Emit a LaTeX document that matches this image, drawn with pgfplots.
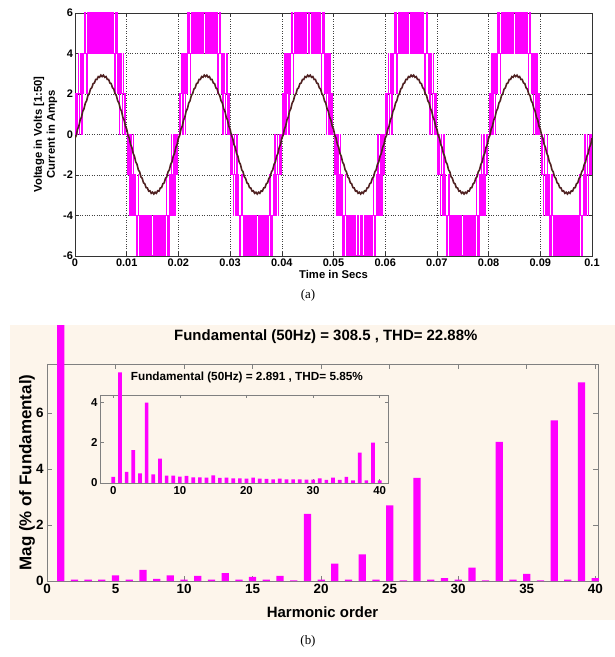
\documentclass[border=0pt]{standalone}
\usepackage{pgfplots}
\pgfplotsset{compat=1.18}
\usepackage{pgfplotstable}
\usepackage{fontspec}
\setmainfont{Liberation Sans}
\newfontfamily\capfont{Liberation Serif}
\definecolor{mag}{RGB}{255,0,255}
\definecolor{cur}{RGB}{80,34,34}
\definecolor{cream}{RGB}{253,245,235}
\definecolor{axgray}{RGB}{128,128,128}

% one period of the multilevel voltage (time in ms)
\pgfplotstableread{
t v
0 0
0.15 2
0.25 0
0.35 2
0.42 0
0.5 2
0.6 4
0.7 2
0.8 0
0.9 2
1.0 4
1.1 2
1.2 4
1.3 0
1.4 2
1.5 4
1.6 2
1.7 4
1.8 6
1.9 4
2.0 6
2.1 4
2.25 2
2.35 4
2.5 6
2.6 4
2.7 6
2.8 4
2.9 6
3.05 4
3.12 6
3.3 4
3.37 6
3.55 4
3.6 6
3.8 4
3.86 6
4.05 4
4.1 6
4.3 4
4.35 6
4.55 4
4.6 6
4.8 4
4.85 6
5.15 4
5.2 6
5.4 4
5.45 6
5.65 4
5.7 6
5.9 4
5.95 6
6.14 4
6.2 6
6.4 4
6.45 6
6.63 4
6.7 6
6.88 4
6.95 6
7.1 4
7.2 6
7.3 4
7.4 6
7.5 4
7.65 2
7.75 4
7.9 6
8.0 4
8.1 6
8.2 4
8.3 2
8.4 4
8.5 2
8.6 0
8.7 4
8.8 2
8.9 4
9.0 2
9.1 0
9.2 2
9.3 4
9.4 2
9.5 0
9.58 2
9.65 0
9.75 2
9.85 0
10.15 -2
10.25 0
10.35 -2
10.42 0
10.5 -2
10.6 -4
10.7 -2
10.8 0
10.9 -2
11.0 -4
11.1 -2
11.2 -4
11.3 0
11.4 -2
11.5 -4
11.6 -2
11.7 -4
11.8 -6
11.9 -4
12.0 -6
12.1 -4
12.25 -2
12.35 -4
12.5 -6
12.6 -4
12.7 -6
12.8 -4
12.9 -6
13.05 -4
13.12 -6
13.3 -4
13.37 -6
13.55 -4
13.6 -6
13.8 -4
13.86 -6
14.05 -4
14.1 -6
14.3 -4
14.35 -6
14.55 -4
14.6 -6
14.8 -4
14.85 -6
15.15 -4
15.2 -6
15.4 -4
15.45 -6
15.65 -4
15.7 -6
15.9 -4
15.95 -6
16.14 -4
16.2 -6
16.4 -4
16.45 -6
16.63 -4
16.7 -6
16.88 -4
16.95 -6
17.1 -4
17.2 -6
17.3 -4
17.4 -6
17.5 -4
17.65 -2
17.75 -4
17.9 -6
18.0 -4
18.1 -6
18.2 -4
18.3 -2
18.4 -4
18.5 -2
18.6 0
18.7 -4
18.8 -2
18.9 -4
19.0 -2
19.1 0
19.2 -2
19.3 -4
19.4 -2
19.5 0
19.58 -2
19.65 0
19.75 -2
19.85 0
20 0
}\vtab

% one period of the current (time in ms)
\pgfplotstableread{
t i
0 -0.188
0.25 -0.04
0.5 0.268
0.75 0.414
1.0 0.717
1.25 0.856
1.5 1.150
1.75 1.277
2.0 1.555
2.25 1.665
2.5 1.923
2.75 2.011
3.0 2.245
3.25 2.306
3.5 2.513
3.75 2.544
4.0 2.719
4.25 2.718
4.5 2.860
4.75 2.824
5.0 2.931
5.25 2.860
5.5 2.931
5.75 2.824
6.0 2.860
6.25 2.718
6.5 2.719
6.75 2.544
7.0 2.513
7.25 2.306
7.5 2.245
7.75 2.011
8.0 1.923
8.25 1.665
8.5 1.555
8.75 1.277
9.0 1.150
9.25 0.856
9.5 0.717
9.75 0.414
10.0 0.268
10.25 -0.040
10.5 -0.188
10.75 -0.494
11.0 -0.637
11.25 -0.936
11.5 -1.070
11.75 -1.357
12.0 -1.475
12.25 -1.745
12.5 -1.843
12.75 -2.091
13.0 -2.165
13.25 -2.386
13.5 -2.433
13.75 -2.624
14.0 -2.639
14.25 -2.798
14.5 -2.780
14.75 -2.904
15.0 -2.851
15.25 -2.940
15.5 -2.851
15.75 -2.904
16.0 -2.780
16.25 -2.798
16.5 -2.639
16.75 -2.624
17.0 -2.433
17.25 -2.386
17.5 -2.165
17.75 -2.091
18.0 -1.843
18.25 -1.745
18.5 -1.475
18.75 -1.357
19.0 -1.070
19.25 -0.936
19.5 -0.637
19.75 -0.494
20.0 -0.188
}\itab

\pgfplotstableread{
h m
1 9.14
2 0.05
3 0.05
4 0.05
5 0.2
6 0.05
7 0.4
8 0.08
9 0.2
10 0.05
11 0.18
12 0.05
13 0.28
14 0.05
15 0.15
16 0.05
17 0.18
18 0.02
19 2.4
20 0.05
21 0.62
22 0.05
23 0.95
24 0.05
25 2.7
26 0.02
27 3.68
28 0.05
29 0.1
30 0.05
31 0.48
32 0.02
33 4.97
34 0.05
35 0.25
36 0.02
37 5.74
38 0.05
39 7.09
40 0.1
}\maintab

\pgfplotstableread{
h m
0 0.3
1 5.47
2 0.55
3 1.62
4 0.48
5 3.97
6 0.43
7 1.2
8 0.36
9 0.36
10 0.31
11 0.35
12 0.28
13 0.28
14 0.26
15 0.38
16 0.25
17 0.26
18 0.23
19 0.23
20 0.21
21 0.26
22 0.21
23 0.2
24 0.18
25 0.21
26 0.18
27 0.18
28 0.18
29 0.17
30 0.17
31 0.23
32 0.15
33 0.26
34 0.15
35 0.3
36 0.13
37 1.5
38 0.13
39 2.0
40 0.13
}\insettab

\begin{document}
\begin{tikzpicture}
\path[use as bounding box] (0bp,0bp) rectangle (615bp,657bp);
\fill[cream] (10bp,37bp) rectangle (615bp,332bp);

% ---------- (a) time domain ----------
\begin{axis}[
  at={(75bp,401bp)}, anchor=south west, scale only axis,
  width=517bp, height=243bp,
  xmin=0, xmax=100, ymin=-6, ymax=6,
  xtick={0,10,20,30,40,50,60,70,80,90,100},
  xticklabels={0,0.01,0.02,0.03,0.04,0.05,0.06,0.07,0.08,0.09,0.1},
  ytick={-6,-4,-2,0,2,4,6},
  yticklabels={-6,-4,-2,0,2,4,6},
  tick align=inside, major tick length=4bp,
  axis line style={black!80, line width=0.5bp},
  tick style={black!80, line width=0.5bp},
  grid=major, grid style={dotted, black!75, line width=0.45bp},
  ticklabel style={font=\fontsize{11}{13}\selectfont\bfseries},
  yticklabel style={xshift=1.5bp},
  xticklabel style={yshift=1bp},
  xlabel={Time in Secs},
  xlabel style={font=\fontsize{11.3}{13}\selectfont\bfseries, at={(axis description cs:0.5,-0.078)}, anchor=center},
  ylabel={Voltage in Volts [1:50]\\Current in Amps},
  ylabel style={align=center, font=\fontsize{11.3}{13}\selectfont\bfseries, at={(axis description cs:-0.057,0.5)}, anchor=center},
]
\pgfplotsinvokeforeach{0,20,40,60,80}{
  \addplot[const plot, mag, line width=1bp] table[x expr=\thisrow{t}+#1, y=v]{\vtab};
}
\pgfplotsinvokeforeach{0,20,40,60,80}{
  \addplot[sharp plot, cur, line width=1.6bp] table[x expr=\thisrow{t}+#1, y=i]{\itab};
}
\end{axis}

% ---------- (b) main spectrum ----------
\begin{axis}[
  at={(47bp,76bp)}, anchor=south west, scale only axis,
  width=551bp, height=217bp,
  xmin=0, xmax=40.2, ymin=0, ymax=7.75,
  ybar, bar width=0.53, clip=false,
  xtick={0,5,10,15,20,25,30,35,40},
  xticklabels={0,5,10,15,20,25,30,35,40},
  ytick={0,2,4,6}, yticklabels={0,2,4,6},
  tick align=inside, major tick length=5bp,
  axis line style={axgray, line width=0.9bp},
  tick style={axgray, line width=0.9bp},
  ticklabel style={font=\fontsize{13.5}{15}\selectfont\bfseries},
  xlabel={Harmonic order},
  xlabel style={font=\fontsize{15}{17}\selectfont\bfseries, at={(axis description cs:0.5,-0.143)}, anchor=center},
  ylabel={Mag (\% of Fundamental)},
  ylabel style={font=\fontsize{17}{19}\selectfont\bfseries, at={(axis description cs:-0.0363,0.5)}, anchor=center},
  title={Fundamental (50Hz) = 308.5 , THD= 22.88\%},
  title style={font=\fontsize{15}{17}\selectfont\bfseries, at={(axis description cs:0.506,1.0968)}, anchor=center},
]
\addplot[fill=mag, draw=none] table[x=h, y=m]{\maintab};
\end{axis}

% ---------- inset ----------
\begin{axis}[
  at={(100bp,174bp)}, anchor=south west, scale only axis,
  width=288bp, height=88bp,
  xmin=-2, xmax=41.25, ymin=0, ymax=4.35,
  ybar, bar width=0.55, clip=false,
  axis background/.style={fill=cream},
  xtick={0,10,20,30,40}, xticklabels={0,10,20,30,40},
  ytick={0,2,4}, yticklabels={0,2,4},
  tick align=inside, major tick length=3.5bp,
  axis line style={axgray, line width=0.8bp},
  tick style={axgray, line width=0.8bp},
  ticklabel style={font=\fontsize{11.5}{13}\selectfont\bfseries},
  yticklabel style={xshift=1bp},
  title={Fundamental (50Hz) = 2.891 , THD= 5.85\%},
  title style={font=\fontsize{11.8}{13}\selectfont\bfseries, at={(axis description cs:0.51,1.136)}, anchor=center},
]
\addplot[fill=mag, draw=none] table[x=h, y=m]{\insettab};
\end{axis}

\node[font=\capfont\fontsize{13}{15}\selectfont] at (308bp,362bp) {(a)};
\node[font=\capfont\fontsize{13}{15}\selectfont] at (308bp,16bp) {(b)};
\end{tikzpicture}
\end{document}
